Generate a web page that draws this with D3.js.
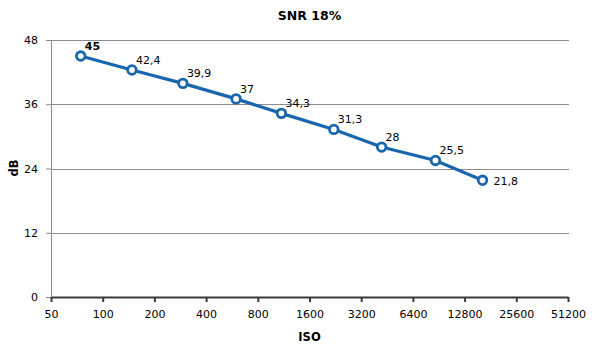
<!DOCTYPE html>
<html>
<head>
<meta charset="utf-8">
<script src="https://cdn.jsdelivr.net/npm/d3@7"></script>
<style>
  body { margin: 0; background: #fff; }
  text { font-family: "DejaVu Sans", Verdana, sans-serif; }
</style>
</head>
<body>
<svg id="chart"></svg>
<script>
// data
const isoValues = [74.5, 148, 293, 598, 1098, 2217, 4208, 8660, 16280];
const snrValues = [45, 42.4, 39.9, 37, 34.3, 31.3, 28, 25.5, 21.8];
const snrLabels = ['45', '42,4', '39,9', '37', '34,3', '31,3', '28', '25,5', '21,8'];
const xTicks = [50, 100, 200, 400, 800, 1600, 3200, 6400, 12800, 25600, 51200];
const yTicks = [0, 12, 24, 36, 48];

const width = 600, height = 353;
const margin = {top: 40, right: 32, bottom: 56, left: 51};
const innerW = width - margin.left - margin.right;
const innerH = height - margin.top - margin.bottom;
const blue = '#1a66ad';

const svg = d3.select('#chart')
    .attr('width', width)
    .attr('height', height);

const chart = svg.append('g')
    .attr('transform', `translate(${margin.left}, ${margin.top})`);

const xscale = d3.scaleLog().base(2)
    .domain([50, 51200])
    .range([0, innerW]);

const yscale = d3.scaleLinear()
    .domain([0, 48])
    .range([innerH, 0]);

// gridlines
chart.append('g')
    .selectAll('line')
    .data(yTicks.filter(d => d > 0))
    .join('line')
    .attr('x1', 0)
    .attr('x2', innerW + 1)
    .attr('y1', d => Math.round(yscale(d)) + 0.5)
    .attr('y2', d => Math.round(yscale(d)) + 0.5)
    .attr('stroke', '#8c8c8c')
    .attr('stroke-width', 1);

// y axis
const yaxis = d3.axisLeft(yscale)
    .tickValues(yTicks)
    .tickSize(5)
    .tickPadding(8)
    .tickSizeOuter(0);
const yg = chart.append('g').call(yaxis);
yg.select('.domain').attr('stroke', '#8c8c8c');
yg.selectAll('.tick line').attr('stroke', '#8c8c8c');
yg.selectAll('.tick text')
    .style('font-size', '11px')
    .attr('fill', '#000');

// x axis
const xaxis = d3.axisBottom(xscale)
    .tickValues(xTicks)
    .tickFormat(d3.format('d'))
    .tickSize(5)
    .tickPadding(8)
    .tickSizeOuter(0);
const xg = chart.append('g')
    .attr('transform', `translate(0, ${innerH})`)
    .call(xaxis);
xg.select('.domain').attr('stroke', '#3a3a3a').attr('stroke-width', 2);
xg.selectAll('.tick line').attr('stroke', '#3a3a3a').attr('stroke-width', 2);
xg.selectAll('.tick text')
    .style('font-size', '11px')
    .attr('fill', '#000');

// line
const points = isoValues.map((iso, i) => ({iso: iso, snr: snrValues[i], label: snrLabels[i]}));

const line = d3.line()
    .x(d => xscale(d.iso))
    .y(d => yscale(d.snr));

chart.append('path')
    .attr('d', line(points))
    .attr('fill', 'none')
    .attr('stroke', blue)
    .attr('stroke-width', 3.2);

chart.selectAll('circle.pt')
    .data(points)
    .join('circle')
    .attr('class', 'pt')
    .attr('cx', d => xscale(d.iso))
    .attr('cy', d => yscale(d.snr))
    .attr('r', 4.3)
    .attr('fill', '#fff')
    .attr('stroke', blue)
    .attr('stroke-width', 2.8);

// value labels
const last = points.length - 1;
chart.selectAll('text.val')
    .data(points)
    .join('text')
    .attr('class', 'val')
    .attr('x', (d, i) => xscale(d.iso) + (i == last ? 11 : 4))
    .attr('y', (d, i) => yscale(d.snr) + (i == last ? 5 : -6))
    .style('font-size', '11px')
    .style('font-weight', (d, i) => i == 0 ? 'bold' : 'normal')
    .attr('fill', '#000')
    .text(d => d.label);

// titles
svg.append('text')
    .attr('x', margin.left + innerW / 2)
    .attr('y', 20)
    .attr('text-anchor', 'middle')
    .style('font-size', '12.5px')
    .style('font-weight', 'bold')
    .text('SNR 18%');

svg.append('text')
    .attr('x', margin.left + innerW / 2)
    .attr('y', 341)
    .attr('text-anchor', 'middle')
    .style('font-size', '11.5px')
    .style('font-weight', 'bold')
    .text('ISO');

svg.append('text')
    .attr('transform', 'rotate(-90)')
    .attr('x', -168)
    .attr('y', 18)
    .attr('text-anchor', 'middle')
    .style('font-size', '11.5px')
    .style('font-weight', 'bold')
    .text('dB');
</script>
</body>
</html>
